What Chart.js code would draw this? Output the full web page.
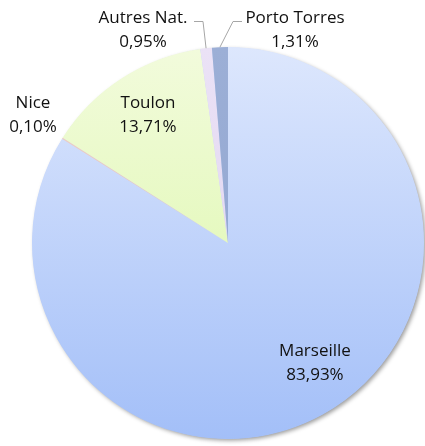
<!DOCTYPE html>
<html>
<head>
<meta charset="utf-8">
<script src="https://cdn.jsdelivr.net/npm/chart.js@4"></script>
<style>
  html, body { margin: 0; padding: 0; background: #fff; }
  #wrap { width: 425px; height: 446px; }
</style>
</head>
<body>
<div id="wrap"><canvas id="pieChart"></canvas></div>
<script>
// DATA //
var ports = ["Marseille", "Nice", "Toulon", "Autres Nat.", "Porto Torres"];
var shares = [83.93, 0.10, 13.71, 0.95, 1.31];
var shareLabels = ["83,93%", "0,10%", "13,71%", "0,95%", "1,31%"];

// top / bottom colours of each slice gradient
var topColors = ["#dde7fd", "#f3d2c6", "#f2fbdc", "#ebe2f6", "#9cafd6"];
var bottomColors = ["#a3bff8", "#e8b8a8", "#d9f7a3", "#ddd0ee", "#8ea3cf"];

function sliceFill(ctx) {
    var chart = ctx.chart;
    var area = chart.chartArea;
    if (!area) return topColors[ctx.dataIndex];
    var g = chart.ctx.createLinearGradient(0, area.top, 0, area.bottom);
    g.addColorStop(0, topColors[ctx.dataIndex]);
    g.addColorStop(1, bottomColors[ctx.dataIndex]);
    return g;
}

// soft shadow behind the whole pie
var shadowPlugin = {
    id: "shadow",
    beforeDatasetsDraw: function(chart) {
        var arc = chart.getDatasetMeta(0).data[0];
        if (!arc) return;
        var c = chart.ctx;
        c.save();
        c.shadowColor = "rgba(0,0,0,0.4)";
        c.shadowBlur = 4;
        c.shadowOffsetX = 2;
        c.shadowOffsetY = 2;
        c.fillStyle = "#c8d6f6";
        c.beginPath();
        c.arc(arc.x, arc.y, arc.outerRadius - 0.5, 0, Math.PI * 2);
        c.fill();
        c.restore();
    }
};

// label block centres (x, first baseline), same order as ports
var labelSpots = [[315, 356], [33, 108], [148, 108], [143, 23], [295, 23]];

var labelPlugin = {
    id: "sliceLabels",
    afterDatasetsDraw: function(chart) {
        var c = chart.ctx;
        var arcs = chart.getDatasetMeta(0).data;
        c.save();
        c.font = "17px 'Open Sans', sans-serif";
        c.fillStyle = "#111";
        c.textAlign = "center";
        c.textBaseline = "alphabetic";
        arcs.forEach(function(arc, i) {
            var p = labelSpots[i];
            c.fillText(ports[i], p[0], p[1]);
            c.fillText(shareLabels[i], p[0], p[1] + 24);
        });
        // leader lines from the small slices
        c.strokeStyle = "#a6a6a6";
        c.lineWidth = 1;
        var a3 = arcs[3], a4 = arcs[4];
        var m3 = (a3.startAngle + a3.endAngle) / 2;
        var m4 = (a4.startAngle + a4.endAngle) / 2;
        c.beginPath();
        c.moveTo(194, 21.5);
        c.lineTo(203, 21.5);
        c.lineTo(a3.x + Math.cos(m3) * a3.outerRadius, a3.y + Math.sin(m3) * a3.outerRadius);
        c.stroke();
        c.beginPath();
        c.moveTo(242, 21.5);
        c.lineTo(233, 21.5);
        c.lineTo(a4.x + Math.cos(m4) * a4.outerRadius, a4.y + Math.sin(m4) * a4.outerRadius);
        c.stroke();
        c.restore();
    }
};

var pieChart = new Chart(document.getElementById("pieChart"), {
    type: "pie",
    data: {
        labels: ports,
        datasets: [{
            data: shares,
            backgroundColor: sliceFill,
            borderWidth: 0
        }]
    },
    options: {
        responsive: true,
        maintainAspectRatio: false,
        animation: false,
        layout: { padding: { left: 32, right: 1, top: 47, bottom: 7 } },
        plugins: {
            legend: { display: false },
            tooltip: { enabled: false }
        }
    },
    plugins: [shadowPlugin, labelPlugin]
});
</script>
</body>
</html>
